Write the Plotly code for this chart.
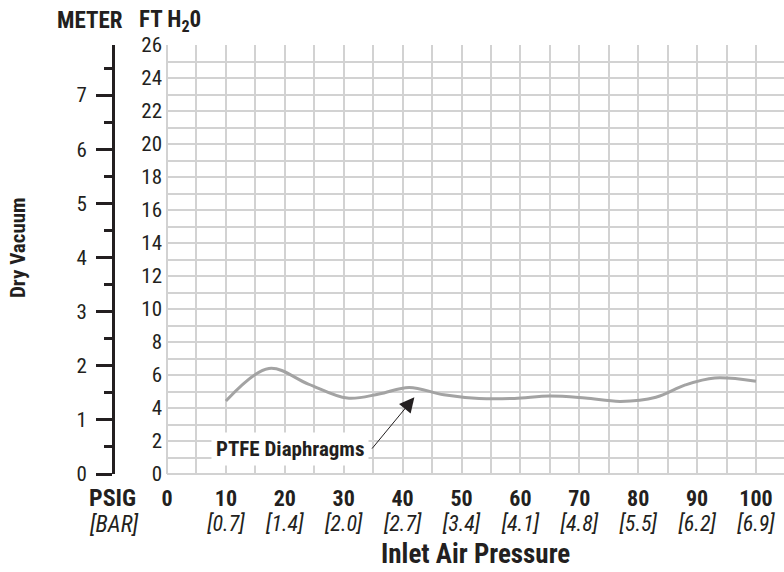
import plotly.graph_objects as go

# ---- data ----
psig = [10, 17.3, 24, 30.6, 36, 41.1, 47, 53, 59, 65, 71, 77, 83, 88, 93, 100]
vacuum_ft = [4.42, 6.4, 5.45, 4.6, 4.85, 5.25, 4.8, 4.58, 4.58, 4.72, 4.6, 4.4, 4.65, 5.4, 5.82, 5.62]

x_ticks = [0, 10, 20, 30, 40, 50, 60, 70, 80, 90, 100]
bar_labels = ["", "0.7", "1.4", "2.0", "2.7", "3.4", "4.1", "4.8", "5.5", "6.2", "6.9"]
ft_ticks = [0, 2, 4, 6, 8, 10, 12, 14, 16, 18, 20, 22, 24, 26]
meter_ticks = [0, 1, 2, 3, 4, 5, 6, 7]

FT_MAX = 26
FT_TO_M = 0.3048

FONT = "'Roboto Condensed', 'Liberation Sans Narrow', 'Arial Narrow', Roboto, sans-serif"
INK = "#231f20"
GRID = "#d2d2d2"

W, H = 784, 572
ML, MR, MT, MB = 60, 0, 45, 98
PW, PH = W - ML - MR, H - MT - MB


def px(xpix):
    return (xpix - ML) / PW


def py(ypix):
    return (H - MB - ypix) / PH


ticktext = []
for t, b in zip(x_ticks, bar_labels):
    top = f"<span style='font-size:22px'><b>{t}</b></span>"
    if b:
        ticktext.append(f"{top}<br><span style='font-size:22px'><i>[{b}]</i></span>")
    else:
        ticktext.append(top)

fig = go.Figure()
fig.add_trace(go.Scatter(
    x=psig, y=vacuum_ft, mode="lines",
    line=dict(color="#a3a3a3", width=3, shape="spline", smoothing=1),
    showlegend=False, hoverinfo="skip",
))
# empty trace so the metre axis gets drawn
fig.add_trace(go.Scatter(x=[], y=[], yaxis="y2", showlegend=False, hoverinfo="skip"))

fig.update_layout(
    width=W, height=H,
    margin=dict(l=ML, r=MR, t=MT, b=MB),
    paper_bgcolor="white", plot_bgcolor="white",
    font=dict(family=FONT, color=INK, size=20),
    showlegend=False,
    xaxis=dict(
        domain=[px(167), 1],
        range=[0, 104.75],
        tickvals=x_ticks, ticktext=ticktext,
        ticks="", ticklabelstandoff=12,
        tickfont=dict(size=19, color=INK),
        showgrid=True, gridcolor=GRID, gridwidth=2,
        minor=dict(dtick=5, tick0=0, showgrid=True, gridcolor=GRID, gridwidth=2),
        zeroline=True, zerolinecolor=GRID, zerolinewidth=2,
        showline=False,
    ),
    yaxis=dict(
        range=[0, FT_MAX],
        tickvals=ft_ticks,
        ticks="", ticklabelstandoff=4,
        tickfont=dict(size=21, color=INK),
        showgrid=True, gridcolor=GRID, gridwidth=2,
        minor=dict(dtick=1, tick0=0, showgrid=True, gridcolor=GRID, gridwidth=2),
        zeroline=True, zerolinecolor=GRID, zerolinewidth=2,
        showline=False,
    ),
    yaxis2=dict(
        overlaying="y", anchor="free", position=px(113), side="left",
        range=[0, FT_MAX * FT_TO_M],
        tickvals=meter_ticks,
        showgrid=False, zeroline=False,
        showline=True, linecolor=INK, linewidth=3,
        ticks="outside", ticklen=16, tickwidth=2.5, tickcolor=INK,
        ticklabelstandoff=5,
        tickfont=dict(size=21, color=INK),
        minor=dict(dtick=0.5, tick0=0, ticks="outside", ticklen=8,
                   tickwidth=2.5, tickcolor=INK, showgrid=False),
    ),
)


def note(text, xpix, ypix, size, **kw):
    return dict(text=text, x=px(xpix), y=py(ypix), xref="paper", yref="paper",
                xanchor="center", yanchor="middle", showarrow=False,
                font=dict(size=size, color=INK), **kw)


annotations = [
    note("<b>METER</b>", 90, 21, 23),
    note("<b>FT H<sub>2</sub>0</b>", 170, 21, 23),
    note("<b>PSIG</b>", 112, 498, 24),
    note("<i>[BAR]</i>", 113, 524, 23),
    note("<b>Dry Vacuum</b>", 18, 248, 21, textangle=-90),
    note("<b>Inlet Air Pressure</b>", 475, 554, 27, borderpad=0),
    dict(text="<b>PTFE Diaphragms</b>", x=20.8, y=1.52, xref="x", yref="y",
         xanchor="center", yanchor="middle",
         showarrow=False, bgcolor="white", borderpad=4, font=dict(size=21, color=INK)),
    dict(text="", x=42, y=4.65, xref="x", yref="y",
         ax=34.6, ay=1.45, axref="x", ayref="y",
         showarrow=True, arrowhead=2, arrowsize=3, arrowwidth=1, arrowcolor=INK,
         standoff=0, startstandoff=0),
]
fig.update_layout(annotations=annotations)

fig.write_html("out.html", config={"displayModeBar": False},
               post_script="document.body.style.margin='0';")
